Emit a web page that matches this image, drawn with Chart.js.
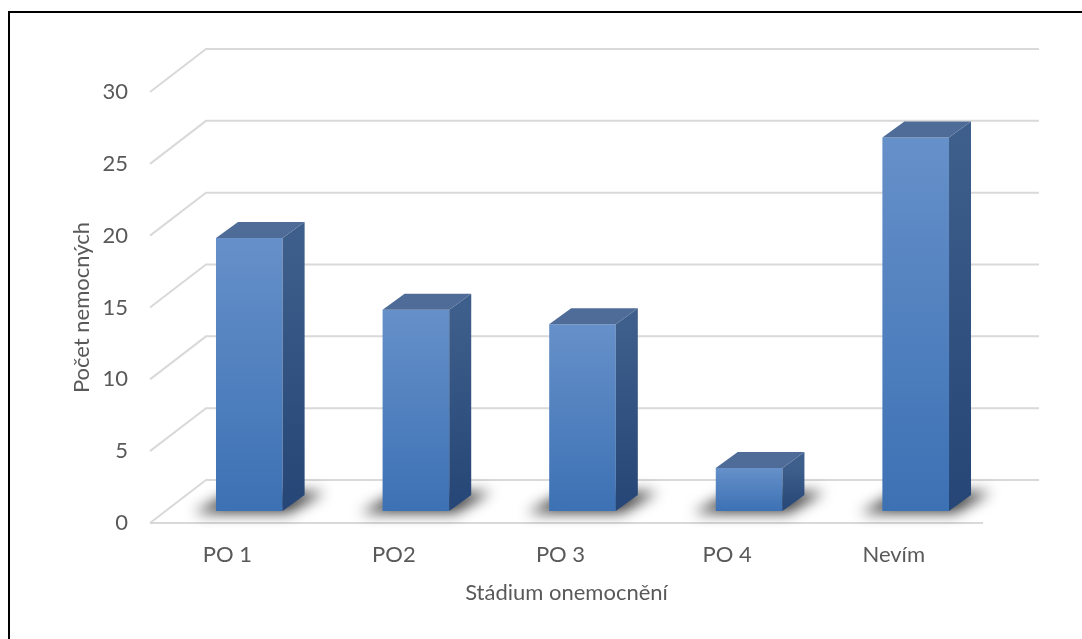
<!DOCTYPE html>
<html lang="cs">
<head>
<meta charset="utf-8">
<title>Stádium onemocnění</title>
<script src="https://cdn.jsdelivr.net/npm/chart.js@4.4.1/dist/chart.umd.min.js"></script>
<style>
    html, body { margin: 0; padding: 0; background: #fff; overflow: hidden; }
    .frame {
        position: absolute; left: 8px; top: 11px; width: 1200px; height: 800px;
        border-left: 2px solid #000; border-top: 2px solid #000;
    }
    #stageChart { position: absolute; left: 0; top: 0; }
</style>
</head>
<body>
<div class="frame"></div>
<canvas id="stageChart" width="1082" height="639"></canvas>
<script>
const stageLabels = ['PO 1', 'PO2', 'PO 3', 'PO 4', 'Nevím'];
const patientCounts = [19, 14, 13, 3, 26];
const countTicks = [0, 5, 10, 15, 20, 25, 30];

// 3D box geometry (pixels): back wall offset, bar plane shift, bar depth
const WALL = { dx: 56, dy: -43 };
const BAR_SHIFT = { dx: 16, dy: -12 };
const BAR_DEPTH = { dx: 22, dy: -16 };
const FONT = { family: 'Lato', size: 22 };
const TEXT_COLOR = '#595959';

const depthPlugin = {
    id: 'depth',
    beforeDatasetsDraw(chart) {
        const { ctx, chartArea, scales: { x, y } } = chart;
        ctx.save();
        ctx.strokeStyle = '#d9d9d9';
        ctx.lineWidth = 2;
        y.ticks.forEach(t => {
            const py = y.getPixelForValue(t.value);
            ctx.beginPath();
            ctx.moveTo(chartArea.left, py);
            ctx.lineTo(chartArea.left + WALL.dx, py + WALL.dy);
            ctx.lineTo(chartArea.right + WALL.dx, py + WALL.dy);
            ctx.stroke();
        });
        // front edge of the floor
        const floorY = y.getPixelForValue(0);
        ctx.beginPath();
        ctx.moveTo(chartArea.left, floorY);
        ctx.lineTo(chartArea.right, floorY);
        ctx.stroke();

        // soft shadows under the bars
        ctx.translate(BAR_SHIFT.dx, BAR_SHIFT.dy);
        ctx.filter = 'blur(7px)';
        ctx.fillStyle = 'rgba(0,0,0,0.75)';
        chart.getDatasetMeta(0).data.forEach(bar => {
            const l = bar.x - bar.width / 2, r = bar.x + bar.width / 2, b = bar.base;
            ctx.beginPath();
            ctx.moveTo(l - 22, b + 2);
            ctx.lineTo(r + 6, b + 2);
            ctx.lineTo(r + BAR_DEPTH.dx + 20, b + BAR_DEPTH.dy - 3);
            ctx.lineTo(l + BAR_DEPTH.dx - 6, b + BAR_DEPTH.dy - 3);
            ctx.closePath();
            ctx.fill();
        });
        ctx.restore();

        // bars stand inside the box, behind the front plane
        ctx.save();
        ctx.translate(BAR_SHIFT.dx, BAR_SHIFT.dy);
    },
    afterDatasetsDraw(chart) {
        const ctx = chart.ctx;
        chart.getDatasetMeta(0).data.forEach(bar => {
            const l = bar.x - bar.width / 2, r = bar.x + bar.width / 2;
            const top = bar.y, b = bar.base;

            const side = ctx.createLinearGradient(0, top, 0, b);
            side.addColorStop(0, '#3e5e8b');
            side.addColorStop(1, '#254676');
            ctx.fillStyle = side;
            ctx.beginPath();
            ctx.moveTo(r, top);
            ctx.lineTo(r + BAR_DEPTH.dx, top + BAR_DEPTH.dy);
            ctx.lineTo(r + BAR_DEPTH.dx, b + BAR_DEPTH.dy);
            ctx.lineTo(r, b);
            ctx.closePath();
            ctx.fill();

            ctx.fillStyle = '#4e6c97';
            ctx.beginPath();
            ctx.moveTo(l, top);
            ctx.lineTo(l + BAR_DEPTH.dx, top + BAR_DEPTH.dy);
            ctx.lineTo(r + BAR_DEPTH.dx, top + BAR_DEPTH.dy);
            ctx.lineTo(r, top);
            ctx.closePath();
            ctx.fill();
        });
        ctx.restore();
    }
};

function frontGradient(context) {
    const chart = context.chart;
    const y = chart.scales.y;
    if (!y || context.type !== 'data') return '#4f81bd';
    const top = y.getPixelForValue(context.raw);
    const base = y.getPixelForValue(0);
    if (!Number.isFinite(top) || !Number.isFinite(base)) return '#4f81bd';
    const g = chart.ctx.createLinearGradient(0, top, 0, base);
    g.addColorStop(0, '#6690c9');
    g.addColorStop(1, '#3c71b4');
    return g;
}

document.addEventListener("DOMContentLoaded", function () {
    const ctxStage = document.getElementById('stageChart');
    new Chart(ctxStage, {
        type: 'bar',
        data: {
            labels: stageLabels,
            datasets: [{
                label: 'Počet nemocných',
                data: patientCounts,
                backgroundColor: frontGradient,
                borderWidth: 0,
                categoryPercentage: 1,
                barPercentage: 0.4
            }]
        },
        options: {
            responsive: false,
            animation: false,
            layout: { padding: { top: 92, right: 99, left: 0, bottom: 0 } },
            plugins: {
                legend: { display: false },
                tooltip: { enabled: false }
            },
            scales: {
                x: {
                    grid: { display: false, drawTicks: false },
                    border: { display: false },
                    ticks: { font: FONT, color: TEXT_COLOR, padding: 19, labelOffset: -6 },
                    title: {
                        display: true,
                        text: 'Stádium onemocnění',
                        font: FONT,
                        color: TEXT_COLOR,
                        padding: { top: 0, bottom: 33 }
                    },
                    afterFit(scale) { scale.height = 116; }
                },
                y: {
                    min: 0,
                    max: 30,
                    grid: { display: false, drawTicks: false },
                    border: { display: false },
                    afterBuildTicks(scale) { scale.ticks = countTicks.map(v => ({ value: v })); },
                    ticks: { font: FONT, color: TEXT_COLOR, padding: 22 },
                    title: {
                        display: true,
                        text: 'Počet nemocných',
                        font: FONT,
                        color: TEXT_COLOR,
                        padding: { top: 69, bottom: 0 }
                    },
                    afterFit(scale) { scale.width = 150; }
                }
            }
        },
        plugins: [depthPlugin]
    });
});
</script>
</body>
</html>
